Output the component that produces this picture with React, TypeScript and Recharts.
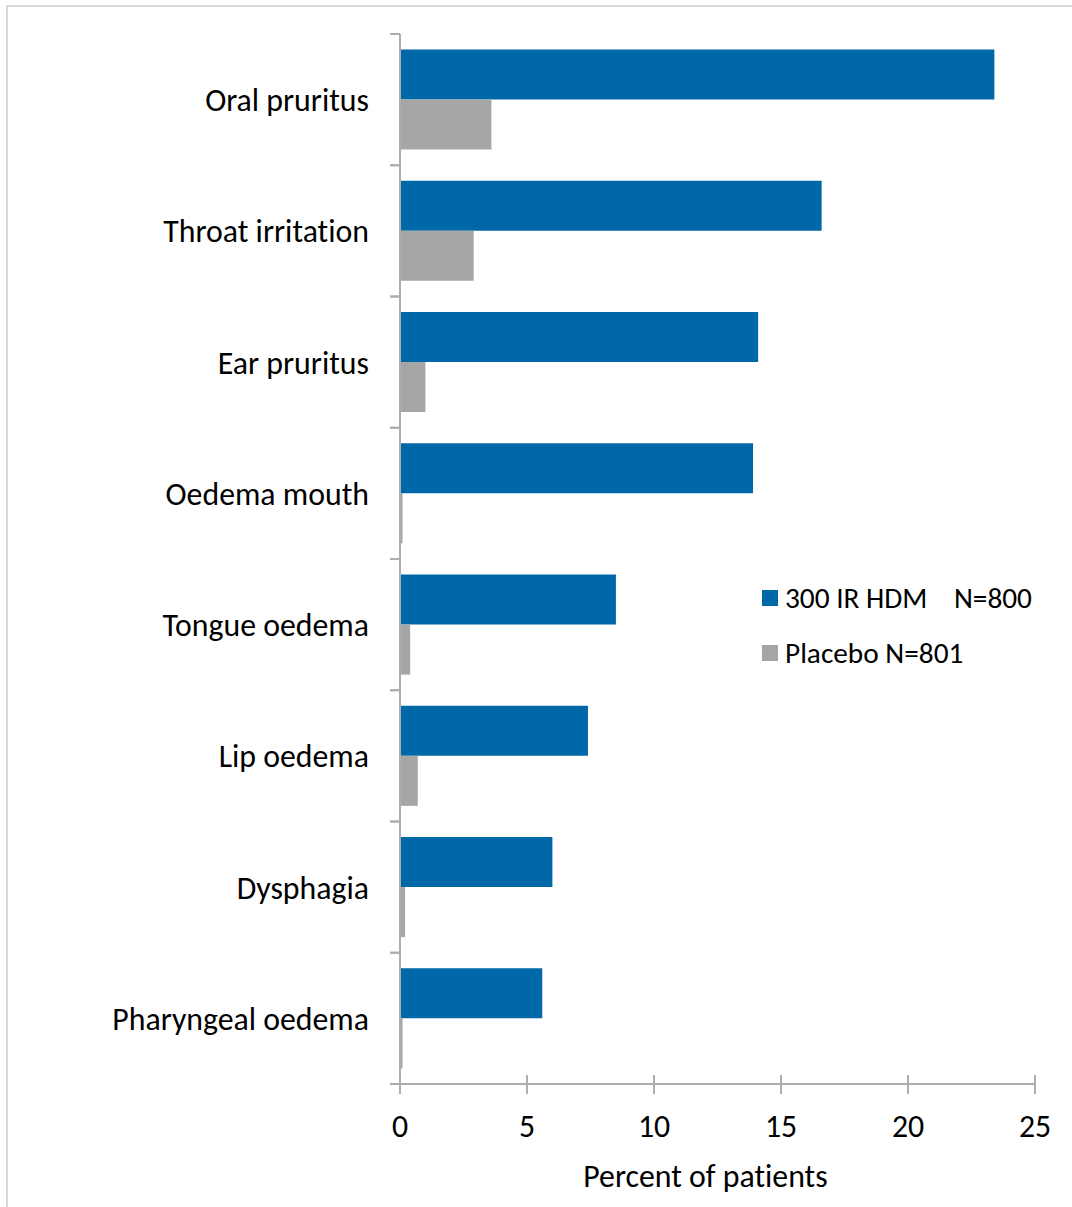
import React from 'react';
import { BarChart, Bar, XAxis, YAxis, Legend } from 'recharts';

const categories = [
  'Oral pruritus',
  'Throat irritation',
  'Ear pruritus',
  'Oedema mouth',
  'Tongue oedema',
  'Lip oedema',
  'Dysphagia',
  'Pharyngeal oedema',
];
const hdmValues = [23.4, 16.6, 14.1, 13.9, 8.5, 7.4, 6.0, 5.6];
const placeboValues = [3.6, 2.9, 1.0, 0.1, 0.4, 0.7, 0.2, 0.1];
const xTicks = [0, 5, 10, 15, 20, 25];
const seriesNames = ['300 IR HDM    N=800', 'Placebo N=801'];
const seriesColors = ['#0067A8', '#A6A6A6'];

const data = categories.map((c, i) => ({ name: c, hdm: hdmValues[i], placebo: placeboValues[i] }));

const FONT = 'Carlito, Lato, sans-serif';
const AXIS = '#ADADAD';
const TXT: React.CSSProperties = { fontVariantLigatures: 'none' };

const YTick = (props: any) => {
  const { x, y, payload } = props;
  const off = payload.offset ?? 0;
  return (
    <g>
      <line x1={x - 10} x2={x} y1={y - off} y2={y - off} stroke={AXIS} strokeWidth={2} />
      <line x1={x - 10} x2={x} y1={y + off} y2={y + off} stroke={AXIS} strokeWidth={2} />
      <text x={x - 31} y={y} dy="0.36em" textAnchor="end" fontFamily={FONT} fontSize={31.8} fill="#000" style={TXT}>
        {payload.value}
      </text>
    </g>
  );
};

const XTick = (props: any) => {
  const { x, y, payload } = props;
  return (
    <g>
      <line x1={x} x2={x} y1={y - 9} y2={y + 10} stroke={AXIS} strokeWidth={2} />
      <text x={x} y={y + 53} textAnchor="middle" fontFamily={FONT} fontSize={31.8} fill="#000" style={TXT}>
        {payload.value}
      </text>
    </g>
  );
};

const LegendContent = () => (
  <div style={{ fontFamily: FONT, fontSize: 29.3, color: '#000', fontVariantLigatures: 'none' }}>
    {seriesNames.map((n, i) => (
      <div key={n} style={{ display: 'flex', alignItems: 'center', height: 55 }}>
        <span style={{ display: 'inline-block', width: 16, height: 16, background: seriesColors[i], marginRight: 7 }} />
        <span style={{ whiteSpace: 'pre', lineHeight: '30px' }}>{n}</span>
      </div>
    ))}
  </div>
);

export default function App() {
  return (
    <div>
      <div
        style={{
          position: 'absolute',
          left: 6,
          top: 5,
          width: 1066,
          height: 1202,
          borderLeft: '2px solid #D9D9D9',
          borderTop: '2px solid #D9D9D9',
          boxSizing: 'border-box',
          pointerEvents: 'none',
        }}
      />
      <BarChart
        width={1064}
        height={1199}
        data={data}
        layout="vertical"
        margin={{ top: 26, right: 37, bottom: 13, left: 0 }}
        barCategoryGap={15.6}
        barGap={0}
      >
        <XAxis
          type="number"
          domain={[0, 25]}
          ticks={xTicks}
          height={110}
          tickSize={0}
          tickMargin={0}
          tickLine={false}
          axisLine={{ stroke: AXIS, strokeWidth: 2 }}
          tick={<XTick />}
          interval={0}
          label={{
            value: 'Percent of patients',
            position: 'insideBottom',
            offset: 7,
            dx: -12,
            style: { fontFamily: FONT, fontSize: 31.8, fill: '#000', fontVariantLigatures: 'none' },
          }}
        />
        <YAxis
          type="category"
          dataKey="name"
          width={392}
          tickSize={0}
          tickMargin={0}
          tickLine={false}
          axisLine={{ stroke: AXIS, strokeWidth: 2 }}
          tick={<YTick />}
          interval={0}
        />
        <Legend
          layout="horizontal"
          verticalAlign="middle"
          align="center"
          content={<LegendContent />}
          wrapperStyle={{ left: 754, top: 562, width: 'auto' }}
        />
        <Bar dataKey="hdm" name={seriesNames[0]} fill={seriesColors[0]} isAnimationActive={false} />
        <Bar dataKey="placebo" name={seriesNames[1]} fill={seriesColors[1]} isAnimationActive={false} />
      </BarChart>
    </div>
  );
}
